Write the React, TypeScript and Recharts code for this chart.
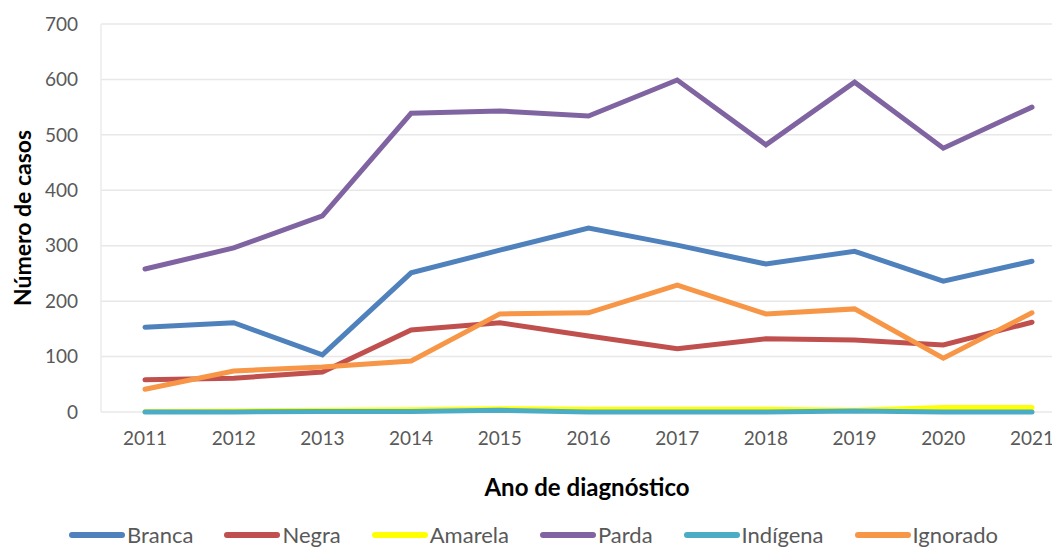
import React from "react";
import { LineChart, Line, XAxis, YAxis, CartesianGrid, Legend } from "recharts";

const years = ["2011", "2012", "2013", "2014", "2015", "2016", "2017", "2018", "2019", "2020", "2021"];
const branca = [153, 161, 103, 251, 292, 332, 301, 267, 290, 236, 272];
const negra = [58, 61, 72, 148, 161, 137, 114, 132, 130, 121, 162];
const amarela = [1, 2, 3, 4, 6, 5, 5, 5, 3, 8, 8];
const parda = [258, 296, 354, 539, 543, 534, 599, 482, 595, 476, 550];
const indigena = [0, 0, 1, 1, 3, 0, 0, 0, 2, 0, 0];
const ignorado = [41, 74, 81, 92, 177, 179, 229, 177, 186, 97, 179];
const yTicks = [0, 100, 200, 300, 400, 500, 600, 700];

const series = [
  { key: "Branca", values: branca, color: "#4F81BD" },
  { key: "Negra", values: negra, color: "#C0504D" },
  { key: "Amarela", values: amarela, color: "#FFFF00" },
  { key: "Parda", values: parda, color: "#8064A2" },
  { key: "Indígena", values: indigena, color: "#4BACC6" },
  { key: "Ignorado", values: ignorado, color: "#F79646" },
];

const data = years.map((y, i) => {
  const row: Record<string, any> = { year: y };
  series.forEach((s) => (row[s.key] = s.values[i]));
  return row;
});

const FONT = "Lato, 'Open Sans', sans-serif";
const GRAY = "#595959";

const LegendContent = () => (
  <div style={{ height: 26, display: "flex", justifyContent: "flex-start", alignItems: "center", paddingLeft: 61, fontFamily: FONT, fontSize: 22, color: GRAY, lineHeight: "26px", whiteSpace: "nowrap" }}>
    {series.map((s, i) => (
      <div key={s.key} style={{ display: "flex", alignItems: "center", marginRight: i < series.length - 1 ? 31 : 0 }}>
        <div style={{ width: 56, height: 6, borderRadius: 3, background: s.color, marginRight: 2 }} />
        <span>{s.key}</span>
      </div>
    ))}
  </div>
);

const YTitle = (props: any) => {
  const vb = props.viewBox || { x: 0, y: 0, width: 0, height: 0 };
  const cx = vb.x + 14;
  const cy = vb.y + vb.height / 2;
  return (
    <text x={cx} y={cy} transform={`rotate(-90, ${cx}, ${cy})`} textAnchor="middle" dominantBaseline="central" fontFamily={FONT} fontWeight={700} fontSize={23} fill="#000">
      Número de casos
    </text>
  );
};

const XTitle = (props: any) => {
  const vb = props.viewBox || { x: 0, y: 0, width: 0, height: 0 };
  return (
    <text x={587 - 8} y={vb.y + 74} textAnchor="middle" dominantBaseline="central" fontFamily={FONT} fontWeight={700} fontSize={24} fill="#000">
      Ano de diagnóstico
    </text>
  );
};

export default function App() {
  return (
    <div style={{ width: 1052, height: 540, overflow: "hidden" }}>
      <LineChart width={1052} height={540} data={data} margin={{ top: 16, right: 0, left: 0, bottom: 0 }}>
        <CartesianGrid vertical={false} stroke="#E8E8E8" strokeWidth={1.5} />
        <XAxis
          dataKey="year"
          scale="point"
          padding={{ left: 44, right: 28 }}
          height={110}
          axisLine={false}
          tickLine={false}
          tickSize={8}
          tickMargin={12}
          tick={{ fill: GRAY, fontSize: 19, fontFamily: FONT }}
          interval={0}
          label={<XTitle />}
        />
        <YAxis
          width={93}
          domain={[0, 700]}
          ticks={yTicks}
          axisLine={{ stroke: "#EBEBEB", strokeWidth: 1.5 }}
          tickLine={false}
          tickSize={8}
          tickMargin={15}
          tick={{ fill: GRAY, fontSize: 19, fontFamily: FONT }}
          label={<YTitle />}
        />
        <Legend verticalAlign="bottom" content={<LegendContent />} />
        {series.map((s) => (
          <Line key={s.key} type="linear" dataKey={s.key} stroke={s.color} strokeWidth={5} dot={false} activeDot={false} isAnimationActive={false} strokeLinecap="round" />
        ))}
      </LineChart>
    </div>
  );
}
